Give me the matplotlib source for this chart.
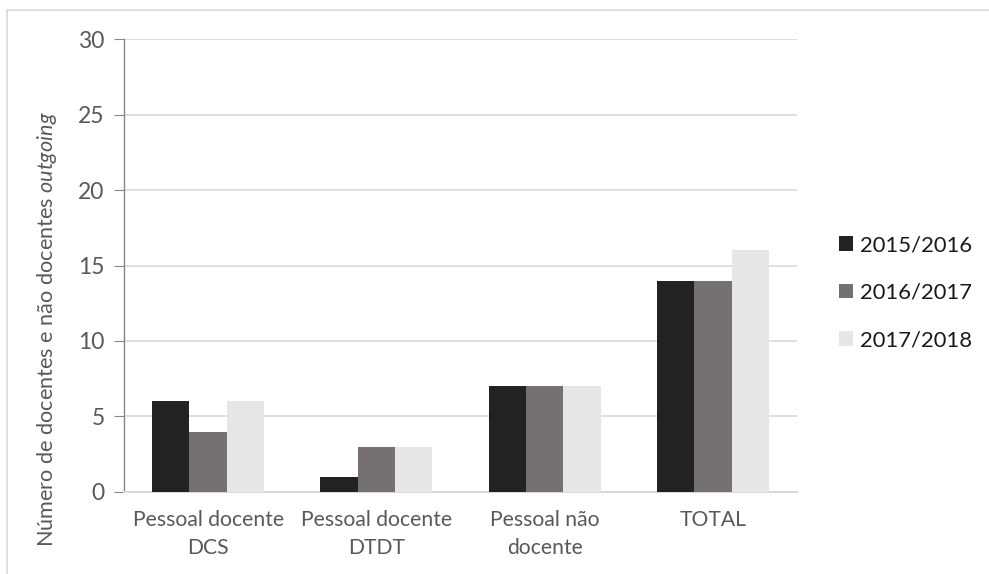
import matplotlib
matplotlib.use("Agg")
import matplotlib.pyplot as plt
import matplotlib.patches as mpatches
import numpy as np

# Data
categories = ["Pessoal docente\nDCS", "Pessoal docente\nDTDT", "Pessoal não\ndocente", "TOTAL"]
years = ["2015/2016", "2016/2017", "2017/2018"]
v_2015 = [6, 1, 7, 14]
v_2016 = [4, 3, 7, 14]
v_2017 = [6, 3, 7, 16]
yticks = [0, 5, 10, 15, 20, 25, 30]

COLORS = ["#222222", "#767171", "#e6e6e6"]

plt.rcParams.update({
    "font.family": ["Lato", "DejaVu Sans"],
    "mathtext.fontset": "custom",
    "mathtext.rm": "Lato",
    "mathtext.it": "Lato:italic",
})

fig = plt.figure(figsize=(9.89, 5.74), dpi=100)
ax = fig.add_axes([0.1254, 0.1429, 0.6805, 0.7891])

# light frame around the chart area
fig.patches.append(mpatches.Rectangle((7 / 989, -0.1), 1.1, (574 - 10) / 574 + 0.1,
                                      transform=fig.transFigure, fill=False,
                                      edgecolor="#d9d9d9", linewidth=1.2))

x = np.arange(len(categories))
w = 0.222
for i, (vals, col, lab) in enumerate(zip([v_2015, v_2016, v_2017], COLORS, years)):
    ax.bar(x + (i - 1) * w, vals, w, color=col, label=lab, zorder=3)

ax.set_xlim(-0.5, len(categories) - 0.5)
ax.set_ylim(0, 30)
ax.set_yticks(yticks)
ax.set_xticks(x)
ax.set_xticklabels(categories, linespacing=1.5)

ax.grid(axis="y", color="#d9d9d9", linewidth=1.2, zorder=0)
ax.set_axisbelow(True)
for s in ["top", "right"]:
    ax.spines[s].set_visible(False)
ax.spines["left"].set_color("#868686")
ax.spines["left"].set_linewidth(1.0)
ax.spines["bottom"].set_color("#d9d9d9")
ax.spines["bottom"].set_linewidth(1.5)

ax.tick_params(axis="y", length=7, color="#868686", pad=7, labelsize=16.5, labelcolor="#595959")
ax.tick_params(axis="x", length=0, pad=13, labelsize=15.2, labelcolor="#595959")

ax.set_ylabel(r"Número de docentes e não docentes $\it{outgoing}$", fontsize=15.6,
              color="#595959")
ax.yaxis.set_label_coords(-0.097, 0.359)

leg = ax.legend(loc="center left", bbox_to_anchor=(1.033, 0.44), frameon=False,
                fontsize=15.8, handlelength=0.65, handleheight=0.65, handletextpad=0.3,
                labelspacing=1.25)
for t in leg.get_texts():
    t.set_color("#1a1a1a")

fig.savefig("out.png", dpi=100, facecolor="white")
